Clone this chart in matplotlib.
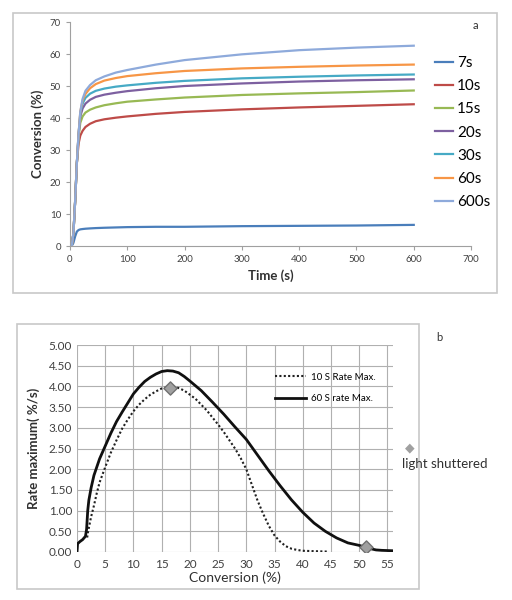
import matplotlib
matplotlib.use("Agg")
import matplotlib.pyplot as plt
from matplotlib.patches import Rectangle
import numpy as np

plt.rcParams['font.family'] = ['Lato', 'DejaVu Sans']

# ---------------- Panel a data ----------------
time_s = [0, 3, 6, 9, 12, 15, 18, 22, 27, 35, 45, 60, 80, 100, 150, 200, 300, 400, 500, 600]
series_labels = ['7s', '10s', '15s', '20s', '30s', '60s', '600s']
conv_7s   = [0, 0, 1.0, 3.0, 4.5, 5.0, 5.2, 5.3, 5.4, 5.5, 5.6, 5.7, 5.8, 5.9, 6.0, 6.0, 6.2, 6.3, 6.4, 6.6]
conv_10s  = [0, 0, 4, 14, 26, 32, 34.5, 36, 37.2, 38.2, 39, 39.6, 40.1, 40.5, 41.3, 41.9, 42.7, 43.3, 43.8, 44.3]
conv_15s  = [0, 0, 4, 14, 26, 34, 38.5, 40.5, 41.7, 42.6, 43.3, 44, 44.6, 45.1, 45.8, 46.4, 47.2, 47.7, 48.1, 48.6]
conv_20s  = [0, 0, 4, 14, 26, 35, 40.5, 43, 44.5, 45.7, 46.6, 47.3, 47.9, 48.4, 49.3, 50, 50.8, 51.4, 51.8, 52.1]
conv_30s  = [0, 0, 4, 14, 26, 35, 41.5, 44.5, 46.3, 47.6, 48.5, 49.2, 49.8, 50.2, 51, 51.6, 52.4, 52.9, 53.3, 53.6]
conv_60s  = [0, 0, 4, 14, 26, 35, 42, 45.5, 47.5, 49.3, 50.6, 51.7, 52.5, 53.1, 54, 54.7, 55.5, 56, 56.4, 56.7]
conv_600s = [0, 0, 4, 14, 26, 35, 42, 46, 48.5, 50.3, 51.8, 53, 54.2, 55, 56.7, 58.1, 59.9, 61.2, 62, 62.6]
series_values = [conv_7s, conv_10s, conv_15s, conv_20s, conv_30s, conv_60s, conv_600s]
series_colors = ['#4a7ebb', '#be4b48', '#98b954', '#7d60a0', '#46aac5', '#f79646', '#8eaadb']

# ---------------- Panel b data ----------------
conv_10s_rate_x = [1.8, 2, 2.5, 3, 3.5, 4, 5, 6, 7, 8, 9, 10, 11, 12, 13, 14, 15, 16, 17, 18,
                   19, 20, 21, 22, 23, 24, 25, 26, 27, 28, 29, 30, 31, 32, 33, 34, 35, 36, 37,
                   38, 39, 40, 42, 44.5]
rate_10s = [0.35, 0.52, 0.85, 1.12, 1.42, 1.68, 2.05, 2.4, 2.7, 2.98, 3.2, 3.4, 3.56, 3.69,
            3.8, 3.88, 3.95, 3.98, 4.0, 3.96, 3.9, 3.8, 3.7, 3.56, 3.42, 3.25, 3.08, 2.9, 2.7,
            2.5, 2.27, 2.0, 1.62, 1.24, 0.92, 0.63, 0.4, 0.25, 0.14, 0.08, 0.05, 0.03, 0.02, 0.01]
conv_60s_rate_x = [0, 0.1, 0.5, 1, 1.5, 1.7, 1.9, 2.1, 2.5, 3, 4, 5, 6, 7, 8, 9, 10, 11, 12, 13,
                   14, 15, 16, 17, 18, 19, 20, 22, 24, 26, 28, 30, 32, 34, 36, 38, 40, 42, 44,
                   46, 48, 49, 50, 51, 52, 53, 54, 56]
rate_60s = [0, 0.2, 0.25, 0.3, 0.38, 0.55, 1.0, 1.25, 1.55, 1.85, 2.25, 2.56, 2.87, 3.15, 3.38,
            3.6, 3.82, 3.98, 4.12, 4.22, 4.3, 4.36, 4.38, 4.37, 4.33, 4.24, 4.13, 3.9, 3.62,
            3.33, 3.02, 2.72, 2.34, 1.96, 1.6, 1.26, 0.96, 0.7, 0.5, 0.34, 0.22, 0.19, 0.16,
            0.12, 0.08, 0.05, 0.04, 0.03]
marker_x = [16.4, 51.3]
marker_y = [3.96, 0.12]

fig = plt.figure(figsize=(5.12, 6.0), dpi=100)

# panel borders
fig.patches.append(Rectangle((0.0254, 0.5117), 0.945, 0.4667, transform=fig.transFigure,
                             fill=False, edgecolor='#c8c8c8', linewidth=1.2))
fig.patches.append(Rectangle((0.0332, 0.0183), 0.785, 0.4417, transform=fig.transFigure,
                             fill=False, edgecolor='#c8c8c8', linewidth=1.2))

# ---------------- Panel a ----------------
ax1 = fig.add_axes([0.1367, 0.59, 0.7833, 0.3733])
for lab, vals, col in zip(series_labels, series_values, series_colors):
    ax1.plot(time_s, vals, color=col, linewidth=1.6, label=lab)
ax1.set_xlim(0, 700)
ax1.set_ylim(0, 70)
ax1.set_xticks(range(0, 701, 100))
ax1.set_yticks(range(0, 71, 10))
for s in ['top', 'right']:
    ax1.spines[s].set_visible(False)
for s in ['left', 'bottom']:
    ax1.spines[s].set_color('#a0a0a0')
ax1.tick_params(axis='both', colors='#a0a0a0', labelcolor='#404040', labelsize=7,
                direction='out', length=3)
ax1.set_xlabel('Time (s)', fontsize=9.5, fontweight='bold', color='#303030', labelpad=4)
ax1.set_ylabel('Conversion (%)', fontsize=9.5, fontweight='bold', color='#303030', labelpad=4)
ax1.legend(loc='upper left', bbox_to_anchor=(0.895, 0.875), frameon=False,
           fontsize=11, handlelength=1.2, handletextpad=0.25, labelspacing=0.6,
           borderaxespad=0)
fig.text(0.924, 0.952, 'a', fontsize=8, color='#303030')

# ---------------- Panel b ----------------
ax2 = fig.add_axes([0.1504, 0.08, 0.6172, 0.345])
ax2.plot(conv_10s_rate_x, rate_10s, color='#202020', linestyle=(0, (1, 1.1)), linewidth=1.5,
         label='10 S Rate Max.')
ax2.plot(conv_60s_rate_x, rate_60s, color='#101010', linewidth=2.0, label='60 S rate Max.')
ax2.scatter(marker_x, marker_y, marker='D', s=45, facecolor='#a0a0a0', edgecolor='#707070',
            zorder=5)
ax2.set_xlim(0, 56)
ax2.set_ylim(0, 5)
ax2.set_xticks(range(0, 56, 5))
ax2.set_yticks(np.arange(0, 5.01, 0.5))
ax2.set_yticklabels(['%.2f' % v for v in np.arange(0, 5.01, 0.5)])
ax2.grid(True, color='#b0b0b0', linewidth=0.8)
ax2.set_axisbelow(True)
for s in ax2.spines.values():
    s.set_visible(False)
ax2.tick_params(axis='both', length=0, labelsize=8.5, labelcolor='#404040')
ax2.tick_params(axis='x', pad=5)
ax2.set_xlabel('Conversion (%)', fontsize=10, color='#303030', labelpad=1)
ax2.set_ylabel('Rate maximum( %/s)', fontsize=9.5, fontweight='bold', color='#303030',
               labelpad=6)
ax2.legend(loc='upper left', bbox_to_anchor=(0.615, 0.885), frameon=False, fontsize=7,
           handlelength=3.2, handletextpad=0.5, labelspacing=1.3, borderaxespad=0)

# annotations outside panel b
fig.text(0.8, 0.255, '\u25C6', fontsize=9, color='#a0a0a0', ha='center', va='center')
fig.text(0.785, 0.227, 'light shuttered', fontsize=9.5, color='#303030', va='center')
fig.text(0.853, 0.432, 'b', fontsize=8, color='#303030')

fig.savefig('out.png', dpi=100)
